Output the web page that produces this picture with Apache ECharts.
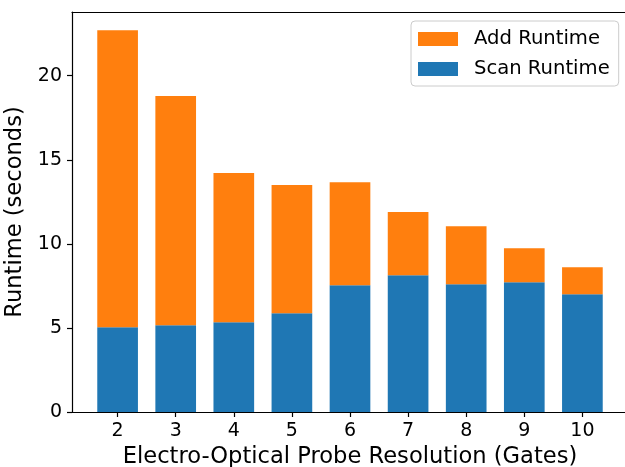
<!DOCTYPE html>
<html>
<head>
<meta charset="utf-8">
<script src="https://cdn.jsdelivr.net/npm/echarts@6/dist/echarts.min.js"></script>
<style>html,body{margin:0;padding:0;background:#fff}#c{width:625px;height:467px}</style>
</head>
<body>
<div id="c"></div>
<script>
const resolutions = [2, 3, 4, 5, 6, 7, 8, 9, 10];
const scanRuntime = [5.04, 5.16, 5.34, 5.88, 7.54, 8.14, 7.60, 7.72, 7.01];
const addRuntime = [17.67, 13.63, 8.87, 7.62, 6.13, 3.75, 3.45, 2.02, 1.60];
const yTicks = [0, 5, 10, 15, 20];

const FONT = 'DejaVu Sans';
const BAR_WIDTH = 0.7;
const chart = echarts.init(document.getElementById('c'), null, {renderer: 'canvas'});
const axisLine = {show: true, lineStyle: {color: '#000', width: 1.2}};

function barRenderer(color) {
  return function (params, api) {
    const x = api.value(0), lo = api.value(1), hi = api.value(2);
    const p0 = api.coord([x, lo]);
    const p1 = api.coord([x, hi]);
    const w = api.size([BAR_WIDTH, 0])[0];
    return {
      type: 'rect',
      shape: {x: p0[0] - w / 2, y: p1[1], width: w, height: p0[1] - p1[1]},
      style: {fill: color}
    };
  };
}

const scanData = resolutions.map((r, i) => [r, 0, scanRuntime[i]]);
const addData = resolutions.map((r, i) => [r, scanRuntime[i], scanRuntime[i] + addRuntime[i]]);

chart.setOption({
  animation: false,
  backgroundColor: '#fff',
  textStyle: {fontFamily: FONT, color: '#000'},
  grid: {left: 72, right: -3, top: 12, bottom: 55, containLabel: false, outerBoundsMode: 'none'},
  legend: {
    data: [{name: 'Add Runtime', icon: 'rect'}, {name: 'Scan Runtime', icon: 'rect'}],
    orient: 'vertical',
    left: 411, top: 21,
    itemWidth: 40, itemHeight: 14, itemGap: 10,
    padding: [8, 9, 7, 7],
    backgroundColor: 'rgba(255,255,255,0.8)',
    borderColor: '#cccccc', borderWidth: 1, borderRadius: 4,
    textStyle: {fontFamily: FONT, fontSize: 19.6, color: '#000', lineHeight: 19, padding: [0, 0, 0, 11]}
  },
  xAxis: [{
    type: 'value', min: 1.215, max: 10.785,
    name: 'Electro-Optical Probe Resolution (Gates)', nameLocation: 'middle', nameGap: 32,
    nameTextStyle: {fontFamily: FONT, fontSize: 22.6, color: '#000'},
    axisLine: axisLine,
    axisTick: {show: true, length: 5, customValues: resolutions, lineStyle: {color: '#000', width: 1.2}},
    axisLabel: {fontFamily: FONT, fontSize: 19, color: '#000', margin: 10, customValues: resolutions},
    splitLine: {show: false}
  }, {
    type: 'value', position: 'top', min: 1.215, max: 10.785,
    axisLine: axisLine, axisTick: {show: false}, axisLabel: {show: false}, splitLine: {show: false}
  }],
  yAxis: {
    type: 'value', min: 0, max: 23.79,
    name: 'Runtime (seconds)', nameLocation: 'middle', nameGap: 36,
    nameTextStyle: {fontFamily: FONT, fontSize: 22.6, color: '#000'},
    axisLine: axisLine,
    axisTick: {show: true, length: 5, customValues: yTicks, lineStyle: {color: '#000', width: 1.2}},
    axisLabel: {fontFamily: FONT, fontSize: 19, color: '#000', margin: 10, customValues: yTicks},
    splitLine: {show: false}
  },
  series: [{
    name: 'Scan Runtime', type: 'custom', xAxisIndex: 0,
    itemStyle: {color: '#1f77b4'},
    renderItem: barRenderer('#1f77b4'),
    encode: {x: 0, y: [1, 2]},
    data: scanData
  }, {
    name: 'Add Runtime', type: 'custom', xAxisIndex: 0,
    itemStyle: {color: '#ff7f0e'},
    renderItem: barRenderer('#ff7f0e'),
    encode: {x: 0, y: [1, 2]},
    data: addData
  }]
});
</script>
</body>
</html>
